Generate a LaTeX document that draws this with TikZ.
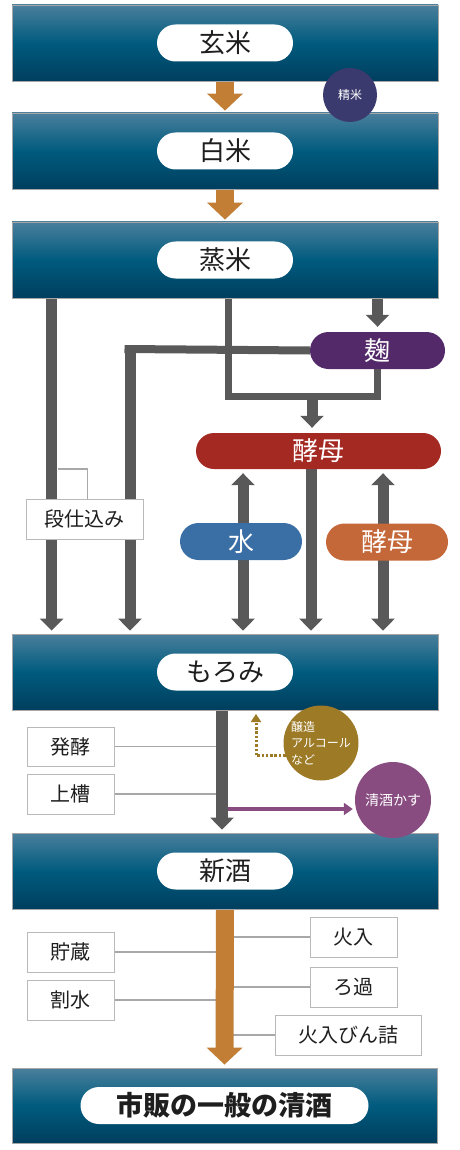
\documentclass[tikz,border=0pt]{standalone}
\usepackage{fontspec}
\setmainfont{Noto Sans CJK JP}
\usetikzlibrary{arrows.meta,shapes.misc}
\definecolor{bandtop}{HTML}{4A7F9C}
\definecolor{bandmid}{HTML}{005B7E}
\definecolor{bandbot}{HTML}{003E5E}
\definecolor{arrowor}{HTML}{C27E35}
\definecolor{conngray}{HTML}{595959}
\definecolor{thingray}{HTML}{A8A8A8}
\definecolor{seimai}{HTML}{3B3A6E}
\definecolor{koji}{HTML}{53296A}
\definecolor{kobo}{HTML}{A52923}
\definecolor{mizu}{HTML}{3A6FA5}
\definecolor{kobotwo}{HTML}{C56839}
\definecolor{jozo}{HTML}{9C7A26}
\definecolor{kasu}{HTML}{884C80}
\definecolor{txt}{HTML}{1E1E1E}
\pgfdeclarelayer{background}
\pgfsetlayers{background,main}
\tikzset{
  band/.style={rectangle, draw=gray!70, line width=0.8pt, top color=bandtop, bottom color=bandbot, middle color=bandmid, minimum width=426pt, minimum height=76pt, inner sep=0pt},
  pill/.style={rounded rectangle, fill=white, minimum width=136pt, minimum height=37pt, inner sep=0pt, text=txt, font=\fontsize{26}{26}\selectfont},
  colpill/.style={rounded rectangle, minimum height=37pt, inner sep=0pt, text=white, font=\fontsize{26}{26}\selectfont},
  stepbox/.style={rectangle, draw=gray!55, line width=0.8pt, fill=white, minimum width=87pt, minimum height=40pt, inner sep=0pt, text=txt, font=\fontsize{20}{20}\selectfont},
  circ/.style={circle, inner sep=0pt, text=white},
  orarrow/.style={draw=arrowor, line width=18pt, -{Triangle[width=35pt,length=17pt]}},
  grayarrow/.style={draw=conngray, line width=11pt, -{Triangle[width=23pt,length=12pt]}},
  grayline/.style={draw=conngray, line width=8pt, line join=miter},
  thinline/.style={draw=thingray, line width=1.2pt},
  dotarrow/.style={draw=jozo, line width=3pt, dash pattern=on 2.5pt off 1.8pt, -{Triangle[width=10pt,length=8pt]}},
  purplearrow/.style={draw=kasu, line width=4pt, -{Triangle[width=12pt,length=9pt]}}
}
\begin{document}
\begin{tikzpicture}[x=1pt,y=-1pt]
\useasboundingbox (0,0) rectangle (460,1150);
% bands
\node[band] (b1) at (225,43) {};
\node[pill] (p1) at (b1.center) {玄米};
\node[band] (b2) at (225,151) {};
\node[pill] (p2) at (b2.center) {白米};
\node[band] (b3) at (225,260) {};
\node[pill] (p3) at (b3.center) {蒸米};
\node[band] (b4) at (225,672) {};
\node[pill] (p4) at (b4.center) {もろみ};
\node[band] (b5) at (225,871) {};
\node[pill] (p5) at (b5.center) {新酒};
\node[band, minimum width=425pt, minimum height=75pt] (b6) at (224.5,1105.5) {};
\node[pill, minimum width=288pt, font=\bfseries\fontsize{27}{27}\selectfont] (p6) at (b6.center) {市販の一般の清酒};
% circles
\node[circ, fill=seimai, minimum size=54pt, font=\fontsize{12}{12}\selectfont] (seimai) at (350,95) {精米};
\node[circ, fill=jozo, minimum size=75pt, align=left, font=\fontsize{12}{16.5}\selectfont] (jozo) at (321,743) {醸造\\アルコール\\など};
\node[circ, fill=kasu, minimum size=76pt, font=\fontsize{14}{14}\selectfont] (kasu) at (393,800) {清酒かす};
% coloured pills
\node[colpill, fill=koji, minimum width=135pt] (koji) at (377.5,350.5) {麹};
\node[colpill, fill=kobo, minimum width=245pt, minimum height=36pt] (kobo) at (318.5,451) {酵母};
\node[colpill, fill=mizu, minimum width=122pt] (mizu) at (241,541.5) {水};
\node[colpill, fill=kobotwo, minimum width=122pt] (kobotwo) at (387,542) {酵母};
% step boxes
\node[stepbox, minimum width=117pt] (dan) at (84.5,519) {段仕込み};
\node[stepbox, minimum height=39pt] (hakko) at (70.5,746.5) {発酵};
\node[stepbox] (joso) at (70.5,794) {上槽};
\node[stepbox] (chozo) at (70.5,952) {貯蔵};
\node[stepbox] (wari) at (70.5,1000) {割水};
\node[stepbox] (hiire) at (353.5,937) {火入};
\node[stepbox] (roka) at (353.5,987) {ろ過};
\node[stepbox, minimum width=146pt] (bin) at (348,1035) {火入びん詰};
% helper coordinates
\coordinate (c2) at (130,349);
\coordinate (u1) at (312,396.5);
\coordinate (br) at (58,469);
\coordinate (dt) at (256,714);
\coordinate (pk) at (228,809);
\begin{pgfonlayer}{background}
% thin step lines (under the arrows)
\draw[thinline] (br) -| ([xshift=62pt]dan.north west);
\draw[thinline] (hakko.east) -- (hakko.east -| b4.south);
\draw[thinline] (joso.east) -- (joso.east -| b4.south);
\draw[thinline] (chozo.east) -- (chozo.east -| b5.south);
\draw[thinline] (wari.east) -- (wari.east -| b5.south);
\draw[thinline] (hiire.west) -- (hiire.west -| b5.south);
\draw[thinline] (roka.west) -- (roka.west -| b5.south);
\draw[thinline] (bin.west) -- (bin.west -| b5.south);
% orange arrows
\draw[orarrow, shorten >=2pt] (b1.south) -- (b2.north);
\draw[orarrow, shorten >=2pt] (b2.south) -- (b3.north);
\draw[orarrow, shorten >=3pt] (b5.south) -- (b6.north);
% gray arrows from steamed rice
\draw[grayarrow, shorten >=3pt] ([xshift=40pt]b3.south west) -- ([xshift=40pt]b4.north west);
\draw[grayline] (koji.west) -- ([xshift=-5.5pt]c2);
\draw[grayarrow, shorten >=3pt] ([yshift=4pt]c2) -- (c2 |- b4.north);
\draw[grayline, line width=7pt] ([xshift=217pt]b3.south west) |- (u1) -| (koji.south);
\draw[grayarrow, shorten >=5pt] ([yshift=3pt]u1) -- (u1 |- kobo.north);
\draw[grayarrow, shorten >=5pt] (koji.north |- b3.south) -- (koji.north);
\draw[grayarrow, shorten >=3pt] ([xshift=-7.5pt]kobo.south) -- ([xshift=-7.5pt]kobo.south |- b4.north);
\draw[grayarrow, {Triangle[width=23pt,length=12pt]}-{Triangle[width=23pt,length=12pt]}, shorten <=4pt, shorten >=3pt] ([xshift=2pt]mizu.center |- kobo.south) -- ([xshift=2pt]mizu.center |- b4.north);
\draw[grayarrow, {Triangle[width=23pt,length=12pt]}-{Triangle[width=23pt,length=12pt]}, shorten <=4pt, shorten >=3pt] ([xshift=-4pt]kobotwo.center |- kobo.south) -- ([xshift=-4pt]kobotwo.center |- b4.north);
% moromi to new sake
\draw[grayarrow, line width=12pt, shorten >=3pt] ([xshift=-3pt]b4.south) -- ([xshift=-3pt]b5.north);
\draw[dotarrow] (jozo.200) -| (dt);
\draw[purplearrow] (pk) -- ([yshift=-9pt,xshift=-2pt]kasu.west);
\end{pgfonlayer}
\end{tikzpicture}
\end{document}
